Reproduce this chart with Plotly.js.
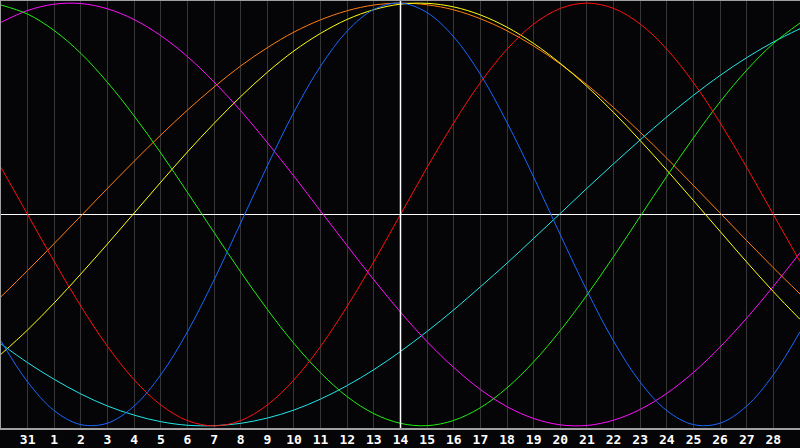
<!DOCTYPE html>
<html>
<head>
<meta charset="utf-8">
<script src="https://cdn.plot.ly/plotly-3.0.1.min.js"></script>
<style>
  html, body { margin: 0; padding: 0; background: #050407; }
  #bio { width: 800px; height: 448px; }
</style>
</head>
<body>
<div id="bio"></div>
<script>
// day index: -1 = Jan 30, 0 = Jan 31, 1..28 = Feb, 29 = Mar 1
var days = [-1, 0, 1, 2, 3, 4, 5, 6, 7, 8, 9, 10, 11, 12, 13, 14, 15, 16, 17, 18, 19, 20, 21, 22, 23, 24, 25, 26, 27, 28, 29];
var tickDays = [0, 1, 2, 3, 4, 5, 6, 7, 8, 9, 10, 11, 12, 13, 14, 15, 16, 17, 18, 19, 20, 21, 22, 23, 24, 25, 26, 27, 28];
var tickLabels = ['31', '1', '2', '3', '4', '5', '6', '7', '8', '9', '10', '11', '12', '13', '14',
                  '15', '16', '17', '18', '19', '20', '21', '22', '23', '24', '25', '26', '27', '28'];
var today = 14;

var physical = [-0.599, -0.792, -0.928, -0.994, -0.987, -0.906, -0.758, -0.555, -0.309, -0.040, 0.230, 0.485, 0.702, 0.868, 0.970, 1.000,
                0.955, 0.840, 0.663, 0.435, 0.177, -0.096, -0.360, -0.599, -0.793, -0.928, -0.994, -0.987, -0.906, -0.758, -0.555];
var emotional = [0.223, 0.000, -0.223, -0.434, -0.624, -0.782, -0.901, -0.975, -1.000, -0.975, -0.901, -0.782, -0.624, -0.434, -0.223, 0.000,
                 0.223, 0.434, 0.624, 0.782, 0.901, 0.975, 1.000, 0.975, 0.901, 0.782, 0.624, 0.434, 0.223, 0.000, -0.223];
var intellectual = [0.991, 0.948, 0.870, 0.762, 0.625, 0.466, 0.291, 0.105, -0.085, -0.272, -0.449, -0.610, -0.749, -0.862, -0.942, -0.988,
                    -0.999, -0.974, -0.914, -0.820, -0.697, -0.549, -0.381, -0.199, -0.009, 0.181, 0.363, 0.533, 0.683, 0.809, 0.906];
var intuitive = [0.909, 0.965, 0.995, 0.998, 0.973, 0.922, 0.846, 0.747, 0.627, 0.491, 0.340, 0.181, 0.016, -0.148, -0.309, -0.462,
                 -0.602, -0.724, -0.828, -0.909, -0.965, -0.995, -0.998, -0.973, -0.922, -0.846, -0.747, -0.627, -0.490, -0.340, -0.181];
var spiritual = [-0.612, -0.701, -0.780, -0.849, -0.906, -0.949, -0.980, -0.997, -0.999, -0.988, -0.963, -0.925, -0.873, -0.809, -0.734, -0.648,
                 -0.553, -0.451, -0.342, -0.230, -0.113, 0.005, 0.124, 0.240, 0.353, 0.462, 0.564, 0.658, 0.742, 0.816, 0.879];
var awareness = [-0.389, -0.265, -0.137, -0.007, 0.124, 0.252, 0.376, 0.494, 0.603, 0.703, 0.789, 0.863, 0.921, 0.964, 0.991, 1.000,
                 0.992, 0.968, 0.926, 0.869, 0.797, 0.712, 0.614, 0.506, 0.389, 0.266, 0.137, 0.007, -0.124, -0.252, -0.376];
var aesthetic = [-0.661, -0.546, -0.418, -0.281, -0.139, 0.007, 0.153, 0.296, 0.431, 0.558, 0.673, 0.774, 0.857, 0.923, 0.969, 0.995,
                 0.999, 0.982, 0.944, 0.886, 0.809, 0.715, 0.606, 0.483, 0.350, 0.210, 0.066, -0.080, -0.225, -0.365, -0.496];

BIO = document.getElementById('bio');

function curve(values, name, color)
{
    return {x: days,
            y: values,
            type: 'scatter',
            mode: 'lines',
            name: name,
            line: {color: color, width: 1, shape: 'spline', smoothing: 1}
           };
}

var data = [curve(awareness, 'Awareness', '#ff7f10'),
            curve(aesthetic, 'Aesthetic', '#ffff10'),
            curve(spiritual, 'Spiritual', '#20e8e8'),
            curve(intuitive, 'Intuitive', '#ff10ff'),
            curve(intellectual, 'Intellectual', '#20f010'),
            curve(emotional, 'Emotional', '#ff1010'),
            curve(physical, 'Physical', '#1868ff')];

var layout = {showlegend: false,
              width: 800,
              height: 448,
              paper_bgcolor: '#050407',
              plot_bgcolor: '#050407',
              margin: {l: 1, r: 0, t: 1, b: 20},
              xaxis: {range: [-1, 29],
                      tickvals: tickDays,
                      ticktext: tickLabels,
                      showgrid: true,
                      gridcolor: '#363636',
                      gridwidth: 1,
                      zeroline: false,
                      showline: true,
                      linecolor: '#a0a0a0',
                      linewidth: 2,
                      mirror: true,
                      ticks: '',
                      ticklabelstandoff: -2,
                      tickfont: {family: 'DejaVu Sans Mono', size: 13, color: '#ffffff', weight: 'bold'},
                      fixedrange: true},
              yaxis: {range: [-1.01, 1.01],
                      showgrid: false,
                      showticklabels: false,
                      zeroline: true,
                      zerolinecolor: '#ffffff',
                      zerolinewidth: 1,
                      showline: true,
                      linecolor: '#a0a0a0',
                      linewidth: 2,
                      ticks: '',
                      fixedrange: true},
              shapes: [{type: 'line', xref: 'x', yref: 'paper', x0: today, x1: today, y0: 0, y1: 1,
                        line: {color: '#ffffff', width: 1.5}, layer: 'above'}]
             };

var config = {'displayModeBar': false, 'staticPlot': true};

Plotly.newPlot(BIO, data, layout, config);
</script>
</body>
</html>
